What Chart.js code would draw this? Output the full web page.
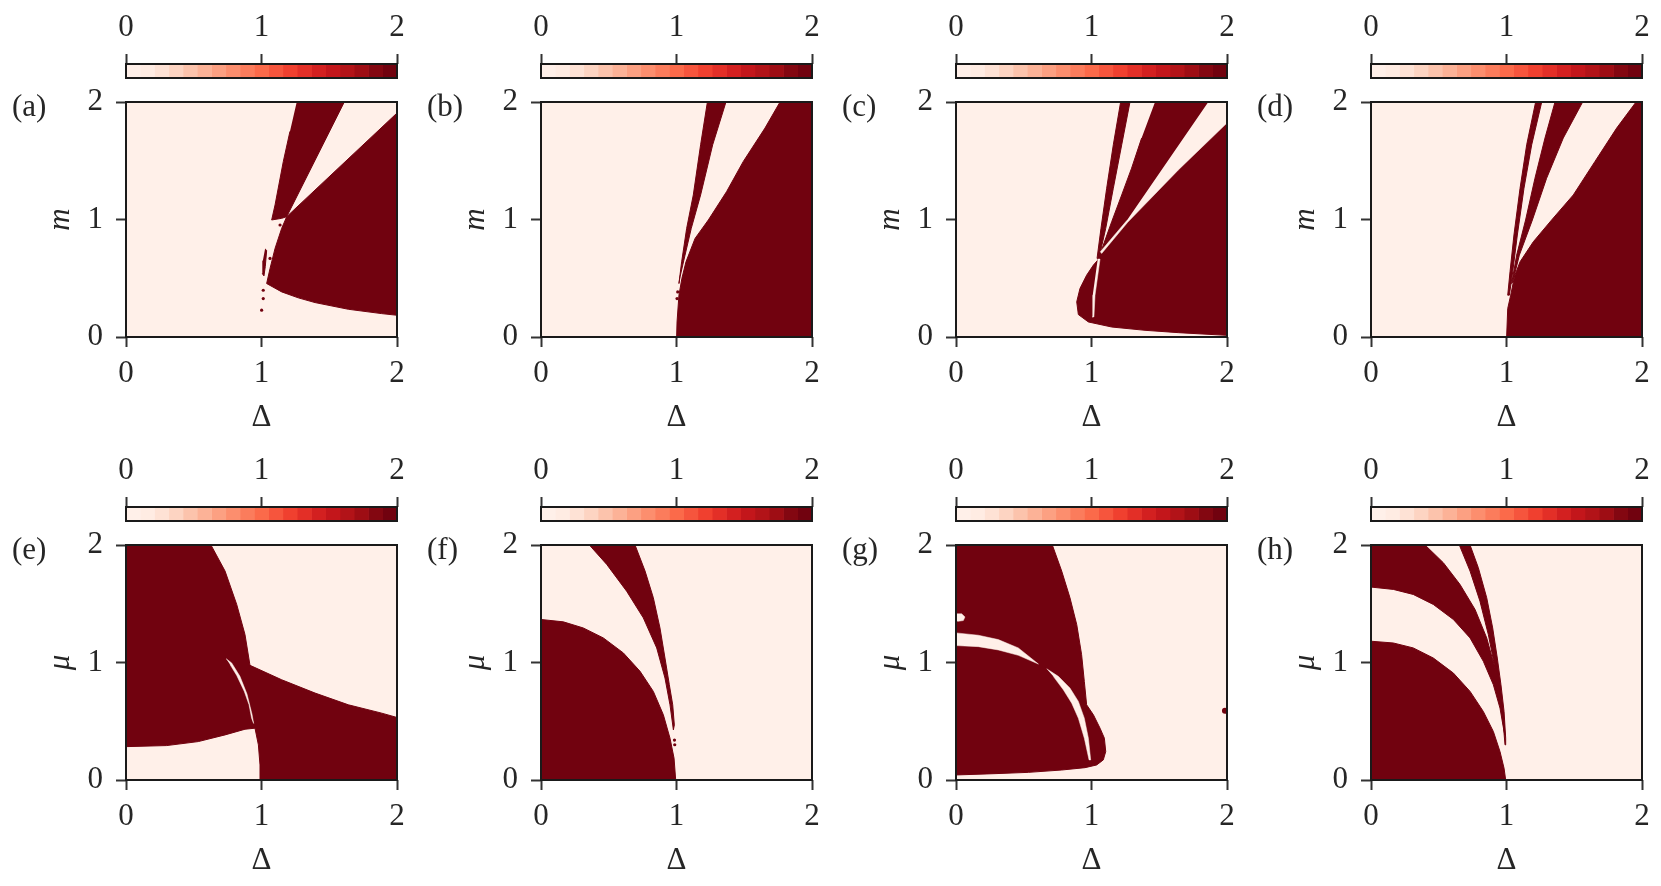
<!DOCTYPE html>
<html>
<head>
<meta charset="utf-8">
<script src="https://cdn.jsdelivr.net/npm/chart.js@4.4.1/dist/chart.umd.min.js"></script>
<style>
body { margin: 0; background: #fff; width: 1661px; height: 886px; position: relative; overflow: hidden; font-family: "Liberation Serif", serif; }
canvas { position: absolute; }
.lab { position: absolute; font-size: 31px; line-height: 1; color: #262626; }
</style>
</head>
<body>
<script>
// axis ticks (both axes, and the colorbars)
const tickValues = [0, 1, 2];

// colorbar level edges and colours (Reds, 19 steps)
const cbEdges = [0, 0.1053, 0.2105, 0.3158, 0.4211, 0.5263, 0.6316, 0.7368, 0.8421, 0.9474,
  1.0526, 1.1579, 1.2632, 1.3684, 1.4737, 1.5789, 1.6842, 1.7895, 1.8947, 2];
const cbColors = ["#fff0e9", "#ffece3", "#fee2d5", "#fdd4c2", "#fcc3ac", "#fcb297", "#fca082",
  "#fc8e6e", "#fb7c5c", "#fb6a4a", "#f6553d", "#f0402f", "#e32f27", "#d32020", "#c3161b",
  "#b21318", "#9e0d14", "#830711", "#71020f"];

// value 0 / value 2 regions, as (Δ, m) or (Δ, μ) outlines
// (a)
const aWedge = [[1.260,2.0],[1.611,2.0],[1.186,1.024],[1.149,1.010],[1.075,0.996],[1.100,1.124],[1.161,1.494],[1.210,1.750]];
const aBody = [[2.0,1.906],[1.186,1.024],[1.149,0.925],[1.100,0.754],[1.063,0.583],[1.038,0.455],[1.149,0.384],
  [1.272,0.333],[1.395,0.293],[1.641,0.236],[1.887,0.199],[2.0,0.185]];
const aSliver = [[1.026,0.750],[1.038,0.737],[1.028,0.600],[1.018,0.520],[1.006,0.540],[1.010,0.650]];
const aDots = [[1.013,0.327],[1.013,0.398],[1.001,0.228],[1.137,0.953],[1.063,0.669]];
// (b)
const bSliver = [[1.228,2.0],[1.178,1.636],[1.124,1.209],[1.075,0.925],[1.038,0.640],[1.018,0.455],[1.026,0.512],
  [1.063,0.697],[1.109,0.925],[1.178,1.209],[1.267,1.636],[1.365,2.0]];
const bBody = [[1.001,0],[1.004,0.128],[1.018,0.356],[1.040,0.500],[1.070,0.640],[1.137,0.839],[1.235,0.996],[1.370,1.238],
  [1.493,1.494],[1.653,1.778],[1.764,2.0],[2.0,2.0],[2.0,0]];
const bDots = [[1.009,0.384],[1.004,0.327]];
// (c)
const cBody = [[1.469,2.0],[2.0,2.0],[2.0,0.014],[1.641,0.037],[1.395,0.057],[1.149,0.085],[0.977,0.128],[0.903,0.191],
  [0.891,0.299],[0.915,0.413],[0.964,0.526],[1.014,0.612],[1.046,0.654],[1.087,0.782],[1.149,0.981],[1.223,1.209],
  [1.296,1.437],[1.370,1.693]];
const cSliver = [[1.215,2.0],[1.161,1.636],[1.112,1.266],[1.070,0.925],[1.041,0.669],[1.055,0.669],[1.105,0.925],
  [1.161,1.266],[1.223,1.636],[1.284,2.0]];
const cGap = [[1.862,2.0],[2.0,2.0],[2.0,1.821],[1.641,1.422],[1.267,0.976],[1.075,0.711],[1.065,0.725],[1.262,0.993]];
const cCrack = [[1.046,0.663],[1.063,0.663],[1.026,0.356],[1.018,0.171],[1.004,0.171],[1.009,0.356]];
// (d)
const dSliver = [[1.215,2.0],[1.149,1.636],[1.100,1.266],[1.055,0.868],[1.026,0.555],[1.009,0.356],[1.021,0.356],
  [1.046,0.555],[1.080,0.868],[1.129,1.266],[1.186,1.636],[1.260,2.0]];
const dWedge = [[1.358,2.0],[1.284,1.693],[1.210,1.351],[1.141,0.996],[1.075,0.697],[1.038,0.455],[1.046,0.469],
  [1.095,0.697],[1.191,0.996],[1.296,1.351],[1.419,1.693],[1.562,2.0]];
const dBody = [[1.001,0],[1.009,0.242],[1.031,0.356],[1.060,0.520],[1.100,0.640],[1.198,0.811],[1.333,0.996],[1.493,1.209],
  [1.653,1.494],[1.813,1.778],[1.956,2.0],[2.0,2.0],[2.0,0]];
// (e)
const eBody = [[0,2],[0.627,2],[0.731,1.778],[0.817,1.494],[0.878,1.238],[0.915,0.976],[1.149,0.853],[1.395,0.740],
  [1.641,0.640],[1.887,0.569],[2.0,0.532],[2.0,0],[0.994,0],[0.989,0.128],[0.977,0.299],[0.952,0.441],[0.878,0.432],
  [0.731,0.384],[0.534,0.327],[0.300,0.293],[0,0.284]];
const eCrack = [[0.738,1.033],[0.780,0.996],[0.841,0.882],[0.893,0.731],[0.930,0.560],[0.942,0.481],[0.927,0.526],
  [0.908,0.640],[0.873,0.754],[0.817,0.890],[0.768,0.982]];
// (f)
const fDisc = [[0,1.366],[0.165,1.346],[0.312,1.294],[0.460,1.209],[0.608,1.081],[0.731,0.925],[0.829,0.754],
  [0.903,0.555],[0.952,0.356],[0.982,0.185],[0.994,0],[0,0]];
const fWedge = [[0.357,2],[0.485,1.835],[0.632,1.607],[0.755,1.380],[0.854,1.124],[0.915,0.868],[0.952,0.640],
  [0.977,0.427],[0.984,0.469],[0.972,0.640],[0.947,0.811],[0.915,1.038],[0.878,1.294],[0.829,1.551],[0.768,1.778],[0.694,2]];
const fDots = [[0.985,0.340],[0.987,0.300]];
// (g)
const gBody = [[0,2],[0.711,2],[0.780,1.778],[0.841,1.551],[0.891,1.323],[0.927,1.067],[0.947,0.839],[0.964,0.640],
  [1.014,0.555],[1.063,0.441],[1.095,0.356],[1.105,0.242],[1.087,0.171],[1.038,0.128],[0.952,0.105],[0.780,0.085],
  [0.534,0.065],[0.288,0.054],[0,0.043]];
const gHole = [[0,1.414],[0.042,1.414],[0.066,1.388],[0.054,1.357],[0.017,1.351],[0,1.354]];
const gBand = [[0,1.252],[0.165,1.232],[0.312,1.195],[0.460,1.124],[0.608,0.987],[0.460,1.061],[0.312,1.107],
  [0.165,1.135],[0,1.144]];
const gCrack = [[0.669,0.947],[0.755,0.882],[0.841,0.782],[0.903,0.669],[0.947,0.526],[0.977,0.356],[0.994,0.171],
  [0.982,0.171],[0.947,0.356],[0.903,0.526],[0.854,0.654],[0.792,0.768],[0.718,0.882]];
const gDots = [[1.985,0.589]];
// (h)
const hDisc = [[0,1.181],[0.165,1.166],[0.312,1.124],[0.460,1.038],[0.608,0.910],[0.731,0.754],[0.829,0.583],
  [0.903,0.413],[0.952,0.242],[0.982,0.100],[0.994,0],[0,0]];
const hBand = [[0,2],[0.399,2],[0.534,1.849],[0.657,1.664],[0.768,1.451],[0.854,1.209],[0.915,0.953],[0.952,0.725],
  [0.977,0.526],[0.989,0.384],[0.982,0.413],[0.952,0.612],[0.903,0.811],[0.829,1.010],[0.731,1.209],[0.608,1.366],
  [0.460,1.494],[0.312,1.579],[0.165,1.622],[0,1.642]];
const hSliver = [[0.652,2],[0.731,1.778],[0.804,1.522],[0.866,1.238],[0.915,0.953],[0.952,0.697],[0.977,0.469],
  [0.989,0.299],[0.994,0.356],[0.982,0.583],[0.959,0.811],[0.932,1.038],[0.898,1.294],[0.854,1.551],[0.792,1.807],[0.731,2]];

const panels = [
  { tag: "(a)", yTitle: "m", dark: [aWedge, aBody, aSliver], light: [], dots: aDots, dotR: 1.6 },
  { tag: "(b)", yTitle: "m", dark: [bSliver, bBody], light: [], dots: bDots, dotR: 1.6 },
  { tag: "(c)", yTitle: "m", dark: [cBody, cSliver], light: [cGap, cCrack], dots: [] },
  { tag: "(d)", yTitle: "m", dark: [dSliver, dWedge, dBody], light: [], dots: [] },
  { tag: "(e)", yTitle: "μ", dark: [eBody], light: [eCrack], dots: [] },
  { tag: "(f)", yTitle: "μ", dark: [fDisc, fWedge], light: [], dots: fDots, dotR: 1.6 },
  { tag: "(g)", yTitle: "μ", dark: [gBody], light: [gHole, gBand, gCrack], dots: gDots, dotR: 3 },
  { tag: "(h)", yTitle: "μ", dark: [hDisc, hBand, hSliver], light: [], dots: [] }
];

const LIGHT = cbColors[0];
const DARK = cbColors[cbColors.length - 1];
const TXT = "#262626";
const FONT = { family: "Liberation Serif", size: 31 };

// layout of the grid (pixels)
const colLeft = [126, 541, 956, 1371];
const rowTop = [102, 545];
const plotW = 271, plotH = 235;
const padTop = 40, padRight = 25;

const frame = {
  id: "frame",
  beforeDatasetsDraw(chart, args, opts) {
    if (!opts.bg) return;
    const { ctx, chartArea: a } = chart;
    ctx.save();
    ctx.fillStyle = opts.bg;
    ctx.fillRect(a.left, a.top, a.width, a.height);
    ctx.restore();
  },
  afterDraw(chart) {
    const { ctx, chartArea: a } = chart;
    ctx.save();
    ctx.strokeStyle = "#1a1a1a";
    ctx.lineWidth = 2;
    ctx.strokeRect(a.left, a.top, a.width, a.height);
    ctx.restore();
  }
};

function makeCanvas(left, top, w, h) {
  const c = document.createElement("canvas");
  c.width = w; c.height = h;
  c.style.left = left + "px"; c.style.top = top + "px";
  c.style.width = w + "px"; c.style.height = h + "px";
  document.body.appendChild(c);
  return c;
}

const pts = arr => arr.map(([x, y]) => ({ x, y }));

const tickOpts = {
  min: 0, max: 2,
  afterBuildTicks: s => { s.ticks = tickValues.map(v => ({ value: v })); },
  grid: { drawOnChartArea: false, tickLength: 10, tickWidth: 2, tickColor: "#333" },
  border: { display: false }
};

panels.forEach((p, i) => {
  const col = i % 4, row = Math.floor(i / 4);
  const L = colLeft[col], T = rowTop[row];

  // colorbar
  const cb = makeCanvas(L - 30, T - 102, plotW + 60, 64 + 14 + 8);
  new Chart(cb, {
    type: "bar",
    data: {
      labels: ["cb"],
      datasets: cbColors.map((c, k) => ({
        data: [[cbEdges[k], cbEdges[k + 1]]],
        backgroundColor: c, borderWidth: 0,
        grouped: false, barPercentage: 1, categoryPercentage: 1
      }))
    },
    options: {
      indexAxis: "y", responsive: false, animation: false, events: [],
      layout: { padding: { left: 30, right: 30, top: 0, bottom: 8 } },
      plugins: { legend: { display: false }, tooltip: { enabled: false }, frame: {} },
      scales: {
        x: { ...tickOpts, type: "linear", position: "top",
          afterFit: s => { s.height = 64; },
          ticks: { padding: 8, font: FONT, color: TXT } },
        y: { display: false }
      }
    },
    plugins: [frame]
  });

  // heatmap panel
  const datasets = [];
  p.dark.forEach(poly => datasets.push({
    data: pts(poly), fill: "shape", backgroundColor: DARK, borderColor: DARK,
    borderWidth: 1, pointRadius: 0, order: 2
  }));
  p.light.forEach(poly => datasets.push({
    data: pts(poly), fill: "shape", backgroundColor: LIGHT, borderColor: LIGHT,
    borderWidth: 0.5, pointRadius: 0, order: 1
  }));
  if (p.dots.length) datasets.push({
    data: pts(p.dots), showLine: false, pointRadius: p.dotR, pointBackgroundColor: DARK,
    pointBorderWidth: 0, order: 0
  });

  const cv = makeCanvas(L - 90, T - padTop, plotW + 90 + padRight, plotH + padTop + 110);
  new Chart(cv, {
    type: "line",
    data: { datasets },
    options: {
      responsive: false, animation: false, events: [],
      layout: { padding: { left: 0, right: padRight, top: padTop, bottom: 0 } },
      elements: { line: { tension: 0 } },
      plugins: { legend: { display: false }, tooltip: { enabled: false }, frame: { bg: LIGHT } },
      scales: {
        x: { ...tickOpts, type: "linear",
          afterFit: s => { s.height = 110; },
          ticks: { padding: 8, font: FONT, color: TXT },
          title: { display: true, text: "Δ", font: FONT, color: TXT, padding: { bottom: 11 } } },
        y: { ...tickOpts, type: "linear",
          afterFit: s => { s.width = 90; },
          ticks: { padding: 13, font: FONT, color: TXT },
          title: { display: true, text: p.yTitle, font: { ...FONT, style: "italic" }, color: TXT, padding: { top: 6 } } }
      }
    },
    plugins: [frame]
  });

  const lab = document.createElement("div");
  lab.className = "lab";
  lab.textContent = p.tag;
  lab.style.left = (L - 114) + "px";
  lab.style.top = (T - 12) + "px";
  document.body.appendChild(lab);
});
</script>
</body>
</html>
